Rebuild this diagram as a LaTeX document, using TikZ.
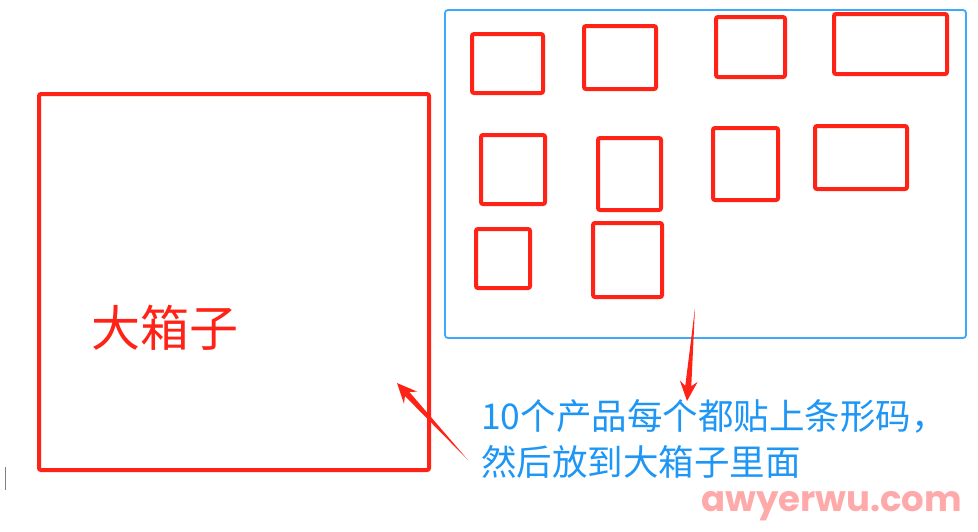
\documentclass[tikz,border=0pt]{standalone}
\usepackage{fontspec}
\newfontfamily\cjk{Noto Sans CJK SC}
\newfontfamily\wmfont{Poppins}
\usetikzlibrary{calc}
\definecolor{boxred}{RGB}{255,34,22}
\definecolor{txtblue}{RGB}{30,150,245}
\definecolor{frameblue}{RGB}{60,170,250}
\definecolor{wmpink}{RGB}{255,170,170}
\tikzset{
  item/.style={draw=boxred, line width=4pt, rounded corners=2pt},
  frame/.style={draw=frameblue, line width=1.8pt, rounded corners=3pt},
}
\newcommand{\taperarrow}[2]{%
  \fill[boxred] (#1)
    -- ($($(#2)!15pt!(#1)$)!3pt!90:(#2)$)
    -- ($($(#2)!20pt!(#1)$)!9pt!90:(#2)$)
    -- (#2)
    -- ($($(#2)!20pt!(#1)$)!9pt!-90:(#2)$)
    -- ($($(#2)!15pt!(#1)$)!3pt!-90:(#2)$)
    -- cycle;}
\begin{document}
\begin{tikzpicture}[x=1pt,y=-1pt]
\useasboundingbox[fill=white] (0,0) rectangle (978,531);
% container
\draw[frame] (445,10) rectangle (966,338);
% small boxes
\draw[item] (472,34) rectangle (543,93);
\draw[item] (584,26) rectangle (656,89);
\draw[item] (716,17) rectangle (785,77);
\draw[item] (834,14) rectangle (947,74);
\draw[item] (481,135) rectangle (545,204);
\draw[item] (598,138) rectangle (661,210);
\draw[item] (713,128) rectangle (778,200);
\draw[item] (815,126) rectangle (907,189);
\draw[item] (476,229) rectangle (530,288);
\draw[item] (593,223) rectangle (662,297);
% big box
\draw[item] (39,94) rectangle (429,470);
\node[text=boxred, font=\cjk\fontsize{49}{52}\selectfont, anchor=west, inner sep=0] (bigbox) at (91,328) {大箱子};
% caption
\node[text=txtblue, font=\cjk\fontsize{35.5}{46}\selectfont, anchor=north west, align=left, inner sep=0] (caption) at (481,399) {10个产品每个都贴上条形码，\\然后放到大箱子里面};
% arrows
\coordinate (a1tail) at (468,460);
\coordinate (a1tip) at (397,383);
\coordinate (a2tail) at (695,308);
\coordinate (a2tip) at (687,401);
\taperarrow{a1tail}{a1tip}
\taperarrow{a2tail}{a2tip}
% watermark
\node[text=wmpink, font=\wmfont\bfseries\fontsize{35.5}{40}\selectfont, anchor=base west, inner sep=0] (wm) at (701,511) {awyerwu.com};
% caret
\draw[gray, line width=1pt] (5,467) -- (5,490);
\end{tikzpicture}
\end{document}
